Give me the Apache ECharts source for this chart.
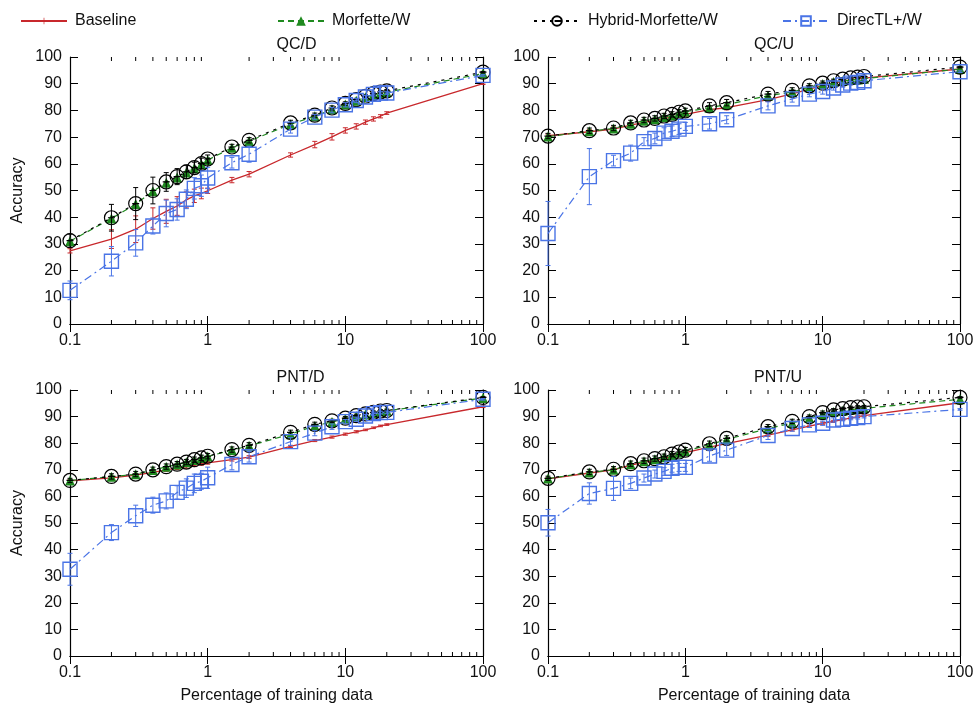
<!DOCTYPE html>
<html>
<head>
<meta charset="utf-8">
<script src="https://cdn.jsdelivr.net/npm/echarts@6/dist/echarts.min.js"></script>
<style>
  html, body { margin: 0; padding: 0; background: #fff; }
  #chart { width: 980px; height: 709px; }
</style>
</head>
<body>
<div id="chart"></div>
<script>
// Training-set sizes (% of training data) shared by every panel
const percentages = [0.1, 0.2, 0.3, 0.4, 0.5, 0.6, 0.7, 0.8, 0.9, 1, 1.5, 2, 4, 6, 8, 10, 12, 14, 16, 18, 20, 100];
const xTickLabels = ['0.1', '1', '10', '100'];
const minorTickValues = [0.2, 0.3, 0.4, 0.5, 0.6, 0.7, 0.8, 0.9, 2, 3, 4, 5, 6, 7, 8, 9, 20, 30, 40, 50, 60, 70, 80, 90];

const seriesNames = ['Baseline', 'Morfette/W', 'Hybrid-Morfette/W', 'DirecTL+/W'];
const panelTitles = ['QC/D', 'QC/U', 'PNT/D', 'PNT/U'];

// QC/D
const qcdBaseline = [27.4, 31.8, 35.5, 39.5, 42.2, 44.2, 46.5, 48.0, 48.9, 49.9, 53.9, 56.1, 63.3, 67.2, 70.1, 72.5, 74.0, 75.6, 76.8, 77.8, 79.0, 90.0];
const qcdMorfette = [31.0, 39.5, 44.9, 49.7, 52.9, 54.9, 56.7, 58.3, 59.8, 61.4, 66.0, 68.5, 74.8, 77.8, 80.4, 82.2, 83.6, 84.9, 85.9, 86.4, 86.8, 93.8];
const qcdHybrid = [31.2, 39.8, 45.1, 50.0, 53.2, 55.2, 57.0, 58.6, 60.1, 61.8, 66.3, 68.8, 75.3, 78.2, 80.9, 82.6, 84.0, 85.3, 86.3, 86.9, 87.3, 94.3];
const qcdDirecTL = [12.6, 23.5, 30.4, 36.7, 41.4, 42.9, 46.7, 50.8, 51.8, 54.7, 60.4, 63.6, 73.0, 77.5, 80.1, 82.1, 83.7, 85.0, 86.0, 86.5, 86.5, 93.1];
const qcdBaselineErr = [0.8, 3.5, 5.0, 4.0, 4.5, 3.5, 3.0, 2.5, 2.0, 1.0, 1.0, 1.0, 0.8, 1.2, 1.2, 1.0, 1.0, 0.8, 0.8, 0.6, 0.5, 0.3];
const qcdHybridErr = [2.5, 5.0, 6.0, 5.0, 3.5, 3.0, 2.5, 2.0, 2.0, 1.5, 1.0, 1.0, 1.0, 0.8, 0.8, 0.6, 0.5, 0.5, 0.5, 0.5, 0.5, 0.3];
const qcdDirecTLErr = [3.5, 5.5, 5.0, 3.0, 5.0, 4.0, 3.5, 4.0, 4.0, 4.0, 2.0, 3.0, 1.5, 1.0, 1.0, 0.8, 0.8, 0.6, 0.6, 0.5, 0.5, 0.3];

// QC/U
const qcuBaseline = [70.5, 72.0, 73.0, 74.5, 75.5, 76.3, 77.0, 77.5, 78.0, 78.5, 80.3, 81.0, 84.0, 86.2, 88.0, 89.3, 90.2, 90.9, 91.4, 91.8, 92.1, 95.5];
const qcuMorfette = [70.2, 72.2, 73.2, 75.0, 76.1, 76.7, 77.5, 78.1, 79.0, 79.5, 81.0, 82.2, 85.5, 86.9, 88.7, 89.9, 90.6, 91.0, 91.4, 91.6, 91.9, 95.5];
const qcuHybrid = [70.4, 72.4, 73.4, 75.3, 76.4, 77.0, 77.9, 78.5, 79.3, 79.8, 81.7, 82.9, 86.1, 87.5, 89.2, 90.2, 91.1, 91.7, 92.2, 92.5, 92.7, 96.2];
const qcuDirecTL = [33.9, 55.2, 61.2, 64.0, 68.3, 69.5, 71.5, 72.2, 73.0, 74.0, 75.0, 76.5, 81.7, 84.3, 86.1, 87.1, 88.4, 89.5, 90.2, 90.5, 91.1, 94.5];
const qcuBaselineErr = [0.6, 0.8, 0.8, 0.8, 0.8, 0.8, 0.8, 0.8, 0.8, 0.8, 0.8, 0.8, 0.6, 0.6, 0.5, 0.5, 0.5, 0.5, 0.4, 0.4, 0.4, 0.3];
const qcuHybridErr = [1.0, 1.0, 1.0, 1.0, 1.0, 1.0, 1.0, 1.0, 1.0, 1.0, 1.2, 1.2, 1.0, 1.0, 0.8, 0.8, 0.6, 0.6, 0.5, 0.5, 0.5, 0.3];
const qcuDirecTLErr = [12.0, 10.5, 2.0, 3.0, 1.5, 2.0, 2.0, 2.0, 2.0, 1.5, 2.0, 1.5, 1.5, 1.2, 1.0, 1.0, 0.8, 0.8, 0.6, 0.6, 0.5, 0.3];

// PNT/D
const pndBaseline = [65.8, 67.0, 68.0, 69.0, 70.0, 70.7, 71.2, 71.7, 72.2, 72.6, 73.8, 74.8, 78.8, 81.0, 82.3, 83.4, 84.3, 85.0, 85.8, 86.5, 87.0, 93.7];
const pndMorfette = [66.0, 67.4, 68.3, 69.9, 71.1, 72.0, 72.8, 73.7, 74.4, 75.0, 77.4, 79.0, 83.4, 86.5, 88.0, 89.2, 90.1, 90.8, 91.4, 91.9, 92.2, 97.0];
const pndHybrid = [66.0, 67.5, 68.4, 70.0, 71.2, 72.1, 72.9, 73.8, 74.5, 75.1, 77.6, 79.2, 84.1, 87.1, 88.4, 89.4, 90.4, 91.0, 91.6, 92.1, 92.3, 97.2];
const pndDirecTL = [32.6, 46.4, 52.7, 56.7, 58.3, 61.5, 63.1, 64.9, 65.7, 67.0, 72.0, 74.9, 80.6, 83.8, 86.2, 88.1, 89.0, 90.2, 91.1, 91.5, 91.6, 96.5];
const pndBaselineErr = [0.5, 0.6, 0.6, 0.6, 0.6, 0.6, 0.6, 0.5, 0.5, 0.5, 0.5, 0.5, 0.4, 0.4, 0.4, 0.4, 0.4, 0.3, 0.3, 0.3, 0.3, 0.3];
const pndHybridErr = [0.8, 1.0, 1.0, 1.0, 1.0, 1.0, 1.0, 1.0, 1.0, 1.0, 1.0, 1.0, 0.8, 0.8, 0.6, 0.6, 0.5, 0.5, 0.5, 0.5, 0.5, 0.3];
const pndDirecTLErr = [6.0, 3.0, 4.0, 3.0, 3.0, 2.5, 3.5, 3.5, 3.0, 4.0, 2.0, 2.0, 1.5, 1.0, 1.0, 0.8, 0.8, 0.6, 0.6, 0.5, 0.5, 0.3];

// PNT/U
const pnuBaseline = [66.6, 68.8, 70.0, 71.8, 72.8, 73.5, 74.2, 75.0, 75.8, 76.5, 78.5, 79.8, 83.0, 85.0, 86.4, 87.5, 88.2, 88.9, 89.5, 90.0, 90.4, 95.2];
const pnuMorfette = [66.7, 69.0, 70.0, 72.1, 73.2, 74.0, 74.7, 75.6, 76.4, 77.1, 79.4, 81.4, 85.5, 87.6, 89.5, 90.9, 91.7, 92.2, 92.6, 92.9, 93.1, 96.5];
const pnuHybrid = [66.8, 69.2, 70.2, 72.3, 73.4, 74.2, 74.9, 75.9, 76.7, 77.4, 79.8, 81.8, 86.2, 88.2, 90.0, 91.5, 92.5, 93.0, 93.4, 93.6, 93.7, 97.2];
const pnuDirecTL = [50.1, 61.1, 63.0, 64.9, 66.9, 68.4, 69.4, 70.6, 70.9, 70.9, 75.2, 77.4, 82.9, 85.5, 86.9, 87.5, 88.7, 89.0, 89.4, 89.6, 90.0, 92.7];
const pnuBaselineErr = [0.5, 0.6, 0.6, 0.6, 0.6, 0.6, 0.6, 0.5, 0.5, 0.5, 0.5, 0.5, 0.4, 0.4, 0.4, 0.4, 0.4, 0.3, 0.3, 0.3, 0.3, 0.3];
const pnuHybridErr = [0.8, 1.0, 1.0, 1.0, 1.0, 1.0, 1.0, 1.0, 1.0, 1.0, 1.0, 1.0, 0.8, 0.8, 0.6, 0.6, 0.5, 0.5, 0.5, 0.5, 0.5, 0.3];
const pnuDirecTLErr = [5.0, 4.0, 4.5, 2.0, 1.5, 1.5, 1.5, 1.5, 1.5, 1.5, 2.0, 2.0, 1.5, 1.0, 1.0, 0.8, 0.8, 0.6, 0.6, 0.5, 0.5, 0.3];

const panelData = [
  { baseline: qcdBaseline, morfette: qcdMorfette, hybrid: qcdHybrid, direc: qcdDirecTL, baseErr: qcdBaselineErr, hybErr: qcdHybridErr, direcErr: qcdDirecTLErr },
  { baseline: qcuBaseline, morfette: qcuMorfette, hybrid: qcuHybrid, direc: qcuDirecTL, baseErr: qcuBaselineErr, hybErr: qcuHybridErr, direcErr: qcuDirecTLErr },
  { baseline: pndBaseline, morfette: pndMorfette, hybrid: pndHybrid, direc: pndDirecTL, baseErr: pndBaselineErr, hybErr: pndHybridErr, direcErr: pndDirecTLErr },
  { baseline: pnuBaseline, morfette: pnuMorfette, hybrid: pnuHybrid, direc: pnuDirecTL, baseErr: pnuBaselineErr, hybErr: pnuHybridErr, direcErr: pnuDirecTLErr }
];

// Layout of the 2x2 panel grid
const gridBoxes = [
  { left: 70, top: 57, width: 413, height: 267 },
  { left: 548, top: 57, width: 412, height: 267 },
  { left: 70, top: 390, width: 413, height: 266 },
  { left: 548, top: 390, width: 412, height: 266 }
];

const FONT = '"Liberation Sans", Arial, Helvetica, sans-serif';
const RED = '#c8282c';
const GREEN = '#1f8a1f';
const BLUE = '#4a74e6';
const BLACK = '#000000';

// circle with a horizontal bar through it
const circleBarSymbol = 'path://M0,10 A10,10 0 1,1 20,10 A10,10 0 1,1 0,10 Z M5,10 L15,10';
// thin vertical tick (with near-invisible corner specks so it keeps a square extent),
// used as the baseline's legend mark; the points themselves are hidden
const tickSymbol = 'path://M0,0 L0.05,0 L0,0.05 Z M9.3,3 L10.7,3 L10.7,17 L9.3,17 Z M20,20 L19.95,20 L20,19.95 Z';

function pairs(values) {
  return percentages.map((x, i) => [x, values[i]]);
}
function errTriples(values, errs) {
  return percentages.map((x, i) => [x, values[i], errs[i]]);
}

function errorBarRenderer(color) {
  return function (params, api) {
    const x = api.value(0), y = api.value(1), e = api.value(2);
    const top = api.coord([x, y + e]);
    const bot = api.coord([x, y - e]);
    const cap = 2.5;
    const style = { stroke: color, lineWidth: 1 };
    return {
      type: 'group',
      children: [
        { type: 'line', shape: { x1: top[0], y1: top[1], x2: bot[0], y2: bot[1] }, style },
        { type: 'line', shape: { x1: top[0] - cap, y1: top[1], x2: top[0] + cap, y2: top[1] }, style },
        { type: 'line', shape: { x1: bot[0] - cap, y1: bot[1], x2: bot[0] + cap, y2: bot[1] }, style }
      ]
    };
  };
}

function minorTickRenderer(params, api) {
  const cs = params.coordSys;
  const x = api.coord([api.value(0), 50])[0];
  const yb = cs.y + cs.height, yt = cs.y;
  const style = { stroke: '#000', lineWidth: 1 };
  return {
    type: 'group',
    children: [
      { type: 'line', shape: { x1: x, y1: yb, x2: x, y2: yb - 4 }, style },
      { type: 'line', shape: { x1: x, y1: yt, x2: x, y2: yt + 4 }, style }
    ]
  };
}

const grid = [], xAxis = [], yAxis = [], series = [], graphic = [];

gridBoxes.forEach((box, p) => {
  grid.push(Object.assign({ containLabel: false }, box));
  const isBottom = p >= 2, isLeft = p % 2 === 0;
  const axisLine = { show: true, lineStyle: { color: '#000', width: 1.2 } };

  xAxis.push({
    type: 'log', logBase: 10, min: 0.1, max: 100, gridIndex: p, position: 'bottom',
    axisLine, axisTick: { show: true, inside: true, length: 8, lineStyle: { color: '#000' } },
    axisLabel: {
      show: true, margin: 9, fontSize: 16, color: '#111', fontFamily: FONT,
      formatter: v => xTickLabels[Math.round(Math.log10(v)) + 1]
    },
    splitLine: { show: false },
    name: isBottom ? 'Percentage of training data' : '',
    nameLocation: 'middle', nameGap: 32,
    nameTextStyle: { fontSize: 16, color: '#111', fontFamily: FONT }
  });
  xAxis.push({
    type: 'log', logBase: 10, min: 0.1, max: 100, gridIndex: p, position: 'top',
    axisLine, axisTick: { show: true, inside: true, length: 8, lineStyle: { color: '#000' } },
    axisLabel: { show: false }, splitLine: { show: false }
  });
  yAxis.push({
    type: 'value', min: 0, max: 100, interval: 10, gridIndex: p, position: 'left',
    axisLine, axisTick: { show: true, inside: true, length: 8, lineStyle: { color: '#000' } },
    axisLabel: { show: true, margin: 8, fontSize: 16, color: '#111', fontFamily: FONT },
    splitLine: { show: false },
    name: isLeft ? 'Accuracy' : '',
    nameLocation: 'middle', nameGap: 44, nameRotate: 90,
    nameTextStyle: { fontSize: 16, color: '#111', fontFamily: FONT }
  });
  yAxis.push({
    type: 'value', min: 0, max: 100, interval: 10, gridIndex: p, position: 'right',
    axisLine, axisTick: { show: true, inside: true, length: 8, lineStyle: { color: '#000' } },
    axisLabel: { show: false }, splitLine: { show: false }
  });

  const xi = 2 * p, yi = 2 * p;
  const d = panelData[p];

  series.push({
    type: 'custom', name: 'minor-ticks-' + p, xAxisIndex: xi, yAxisIndex: yi,
    data: minorTickValues.map(v => [v, 50]), renderItem: minorTickRenderer,
    silent: true, z: 1, encode: { x: 0, y: 1 }
  });

  // Baseline
  series.push({
    type: 'line', name: seriesNames[0], xAxisIndex: xi, yAxisIndex: yi,
    data: pairs(d.baseline), showSymbol: false, symbol: tickSymbol,
    lineStyle: { color: RED, width: 1.3, type: 'solid' }, itemStyle: { color: RED },
    z: 2, animation: false
  });
  series.push({
    type: 'custom', name: 'baseline-err-' + p, xAxisIndex: xi, yAxisIndex: yi,
    data: errTriples(d.baseline, d.baseErr), renderItem: errorBarRenderer(RED),
    encode: { x: 0, y: 1 }, z: 2, silent: true
  });

  // Morfette/W
  series.push({
    type: 'line', name: seriesNames[1], xAxisIndex: xi, yAxisIndex: yi,
    data: pairs(d.morfette), symbol: 'triangle', symbolSize: 10,
    lineStyle: { color: GREEN, width: 1.2, type: [6, 4] }, itemStyle: { color: GREEN },
    z: 3, animation: false
  });

  // Hybrid-Morfette/W
  series.push({
    type: 'custom', name: 'hybrid-err-' + p, xAxisIndex: xi, yAxisIndex: yi,
    data: errTriples(d.hybrid, d.hybErr), renderItem: errorBarRenderer(BLACK),
    encode: { x: 0, y: 1 }, z: 4, silent: true
  });
  series.push({
    type: 'line', name: seriesNames[2], xAxisIndex: xi, yAxisIndex: yi,
    data: pairs(d.hybrid), symbol: circleBarSymbol, symbolSize: 14,
    lineStyle: { color: BLACK, width: 1.2, type: [3, 5] },
    itemStyle: { color: 'rgba(0,0,0,0)', borderColor: BLACK, borderWidth: 1.2 },
    z: 4, animation: false
  });

  // DirecTL+/W
  series.push({
    type: 'custom', name: 'direc-err-' + p, xAxisIndex: xi, yAxisIndex: yi,
    data: errTriples(d.direc, d.direcErr), renderItem: errorBarRenderer(BLUE),
    encode: { x: 0, y: 1 }, z: 5, silent: true
  });
  series.push({
    type: 'line', name: seriesNames[3], xAxisIndex: xi, yAxisIndex: yi,
    data: pairs(d.direc), symbol: 'rect', symbolSize: 14,
    lineStyle: { color: BLUE, width: 1.2, type: [8, 4, 2, 4] },
    itemStyle: { color: 'rgba(0,0,0,0)', borderColor: BLUE, borderWidth: 1.4 },
    z: 5, animation: false
  });

  graphic.push({
    type: 'text', left: box.left + box.width / 2, top: box.top - 20,
    style: { text: panelTitles[p], fontSize: 16, fill: '#111', fontFamily: FONT, textAlign: 'center' }
  });
});

// One legend per entry so each can sit at its own place along the top row
const legendLefts = [15, 272, 528, 777];
const legend = seriesNames.map((name, i) => ({
  data: [name], left: legendLefts[i], top: 8, itemWidth: 46, itemHeight: 12,
  textStyle: { fontSize: 16, color: '#111', fontFamily: FONT, padding: [0, 0, 0, 3] },
  selectedMode: false
}));

const chart = echarts.init(document.getElementById('chart'), null, { renderer: 'canvas' });
chart.setOption({
  animation: false,
  backgroundColor: '#ffffff',
  textStyle: { fontFamily: FONT },
  legend, grid, xAxis, yAxis, series,
  graphic
});
</script>
</body>
</html>
